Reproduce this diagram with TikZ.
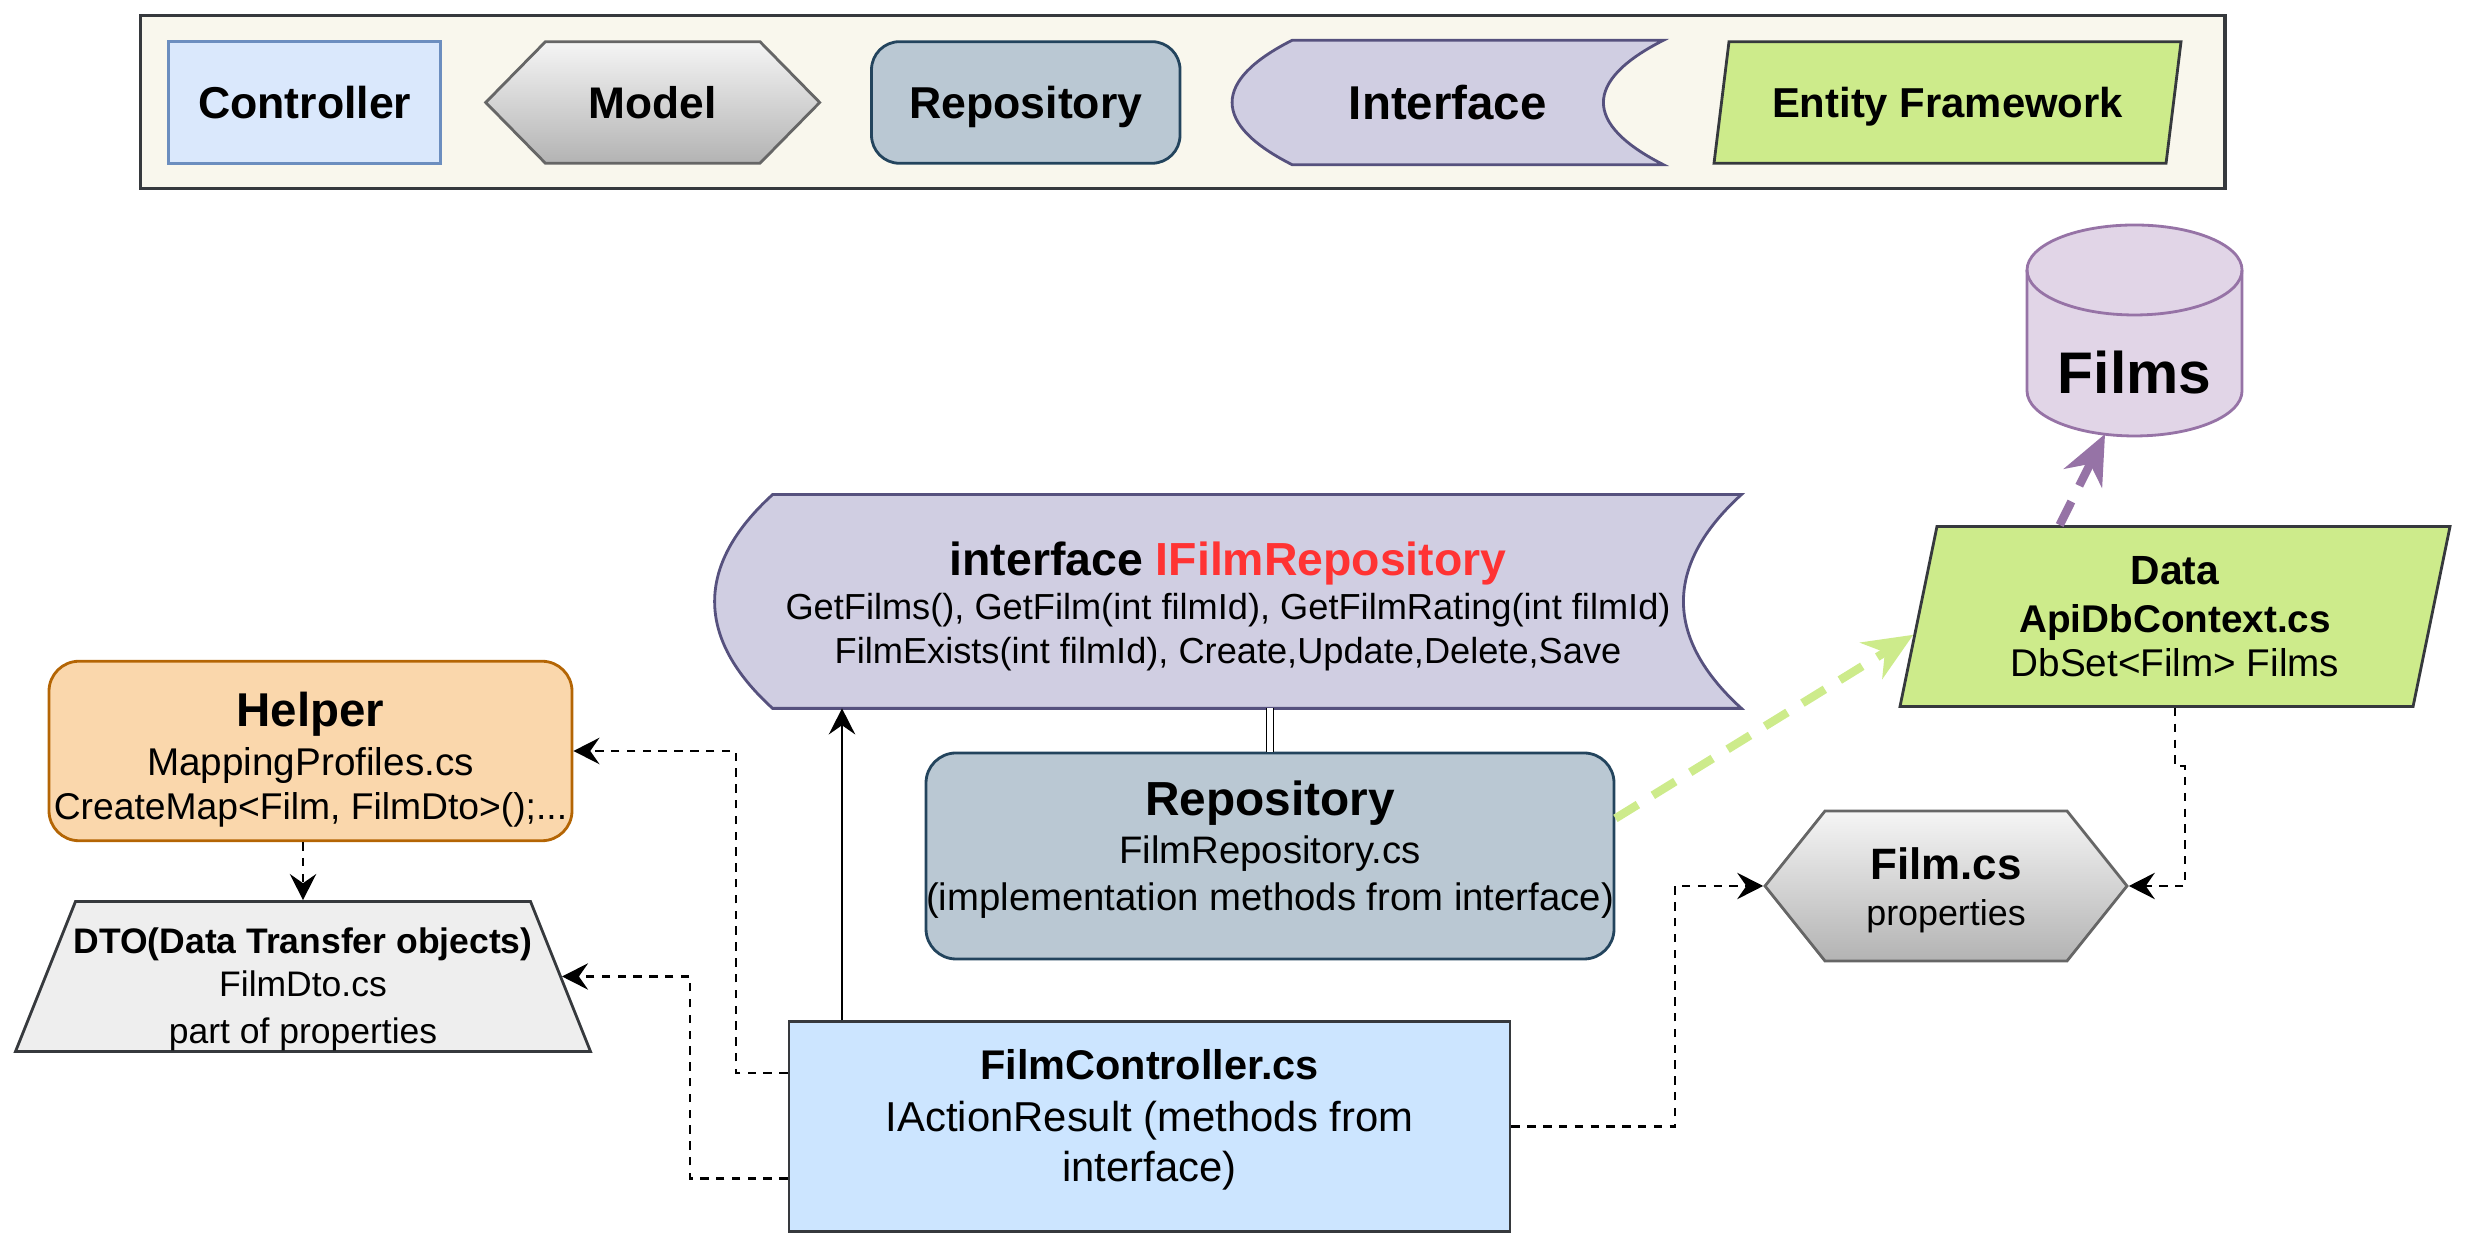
\documentclass[tikz,border=0pt]{standalone}
\usepackage{fontspec}
\setmainfont{Liberation Sans}
\usetikzlibrary{arrows.meta, calc, positioning, shapes.geometric, shapes.symbols, backgrounds}
\definecolor{ctrlFill}{HTML}{DAE8FC}
\definecolor{ctrlLine}{HTML}{6C8EBF}
\definecolor{ctrlMain}{HTML}{CCE5FF}
\definecolor{darkLine}{HTML}{36393D}
\definecolor{modelTop}{HTML}{F5F5F5}
\definecolor{modelBot}{HTML}{B3B3B3}
\definecolor{modelLine}{HTML}{666666}
\definecolor{repoFill}{HTML}{BAC8D3}
\definecolor{repoLine}{HTML}{23445D}
\definecolor{ifaceFill}{HTML}{D0CEE2}
\definecolor{ifaceLine}{HTML}{56517E}
\definecolor{efFill}{HTML}{CDEB8B}
\definecolor{helperFill}{HTML}{FAD7AC}
\definecolor{helperLine}{HTML}{B46504}
\definecolor{dtoFill}{HTML}{EEEEEE}
\definecolor{dbFill}{HTML}{E1D5E7}
\definecolor{dbLine}{HTML}{9673A6}
\definecolor{legendFill}{HTML}{F9F7ED}
\definecolor{ifaceRed}{HTML}{FF3333}

\begin{document}
\begin{tikzpicture}[
    font=\fontsize{11}{13}\selectfont,
    box/.style={align=center, inner sep=0pt, line width=0.8pt},
    txt/.style={align=center, inner sep=0pt},
    keytext/.style={text depth=0pt},
    ctrlkey/.style={box, keytext, draw=ctrlLine, fill=ctrlFill},
    ctrlbox/.style={box, draw=darkLine, fill=ctrlMain},
    model/.style={box, signal, signal to=east and west, draw=modelLine, top color=modelTop, bottom color=modelBot},
    repobox/.style={box, rounded corners=0.3cm, draw=repoLine, fill=repoFill},
    ifaceline/.style={line width=0.8pt, draw=ifaceLine, fill=ifaceFill},
    efbox/.style={box, trapezium, trapezium stretches body, draw=darkLine, fill=efFill},
    helperbox/.style={box, rounded corners=0.3cm, draw=helperLine, fill=helperFill},
    dtobox/.style={box, trapezium, trapezium stretches body, draw=darkLine, fill=dtoFill},
    dbline/.style={line width=0.8pt, draw=dbLine, fill=dbFill},
    dasharrow/.style={line width=0.75pt, dash pattern=on 2.4pt off 2.1pt, -{Stealth[length=7.4pt, width=7.5pt, inset=2.6pt]}},
    solidarrow/.style={line width=0.6pt, -{Stealth[length=7.4pt, width=7.5pt, inset=2.6pt]}},
    bigdash/.style={line width=2.4pt, dash pattern=on 7.5pt off 5pt, -{Stealth[length=14pt, width=12pt, inset=4.5pt]}},
]
    \useasboundingbox (0,0) rectangle (24.69,12.48);

    % Legend
    \node[ctrlkey, minimum width=2.72cm, minimum height=1.216cm, font=\fontsize{12.7}{15}\selectfont\bfseries] (keyCtrl) at (3.047,11.455) {Controller};
    \node[model, keytext, signal pointer angle=91, minimum width=3.34cm, minimum height=1.216cm, font=\fontsize{12.6}{15}\selectfont\bfseries] (keyModel) at (6.527,11.455) {Model};
    \node[repobox, keytext, rounded corners=0.28cm, minimum width=3.085cm, minimum height=1.216cm, font=\fontsize{12.7}{15}\selectfont\bfseries] (keyRepo) at (10.2575,11.455) {Repository};
    \node[box, keytext, minimum width=4.285cm, minimum height=1.216cm, font=\fontsize{13.5}{16}\selectfont\bfseries] (keyIface) at (14.4775,11.455) {Interface};
    \node[efbox, keytext, trapezium left angle=63.7, trapezium right angle=116.3, minimum width=4.67cm, minimum height=1.216cm, font=\fontsize{11.9}{14}\selectfont\bfseries] (keyEf) at (19.475,11.455) {Entity Framework};

    % Database
    \filldraw[dbline] (20.27,9.78) -- (20.27,8.57) arc[start angle=180, end angle=360, x radius=1.075cm, y radius=0.45cm] -- (22.42,9.78) arc[start angle=0, end angle=180, x radius=1.075cm, y radius=0.45cm] -- cycle;
    \draw[dbline, fill=none] (20.27,9.78) arc[start angle=180, end angle=360, x radius=1.075cm, y radius=0.45cm];
    \node[font=\fontsize{16.7}{20}\selectfont\bfseries] (films) at (21.345,8.75) {Films};
    \coordinate (filmsBase) at (21.05,8.14);

    % Main blocks
    \node[box, minimum width=10.24cm, minimum height=2.11cm] (iface) at (12.28,6.465) {};
    \node[txt, font=\fontsize{10.3}{12.5}\selectfont] (ifaceText) at ($(iface)+(0,-0.047)$)
        {{\fontsize{13.2}{15.8}\selectfont\bfseries interface \textcolor{ifaceRed}{IFilmRepository}}\\
         GetFilms(), GetFilm(int filmId), GetFilmRating(int filmId)\\
         FilmExists(int filmId), Create,Update,Delete,Save};
    \node[repobox, minimum width=6.88cm, minimum height=2.06cm] (repo) at (12.70,3.92) {};
    \node[txt, font=\fontsize{10.9}{13.5}\selectfont] (repoText) at ($(repo)+(0,0.063)$)
        {{\fontsize{13.6}{16}\selectfont\bfseries Repository}\\
         FilmRepository.cs\\
         (implementation methods from interface)};
    \node[efbox, trapezium left angle=73, trapezium right angle=107, minimum width=5.5cm, minimum height=1.8cm, font=\fontsize{11}{12.5}\selectfont] (data) at (21.75,6.315)
        {{\fontsize{11.6}{14}\selectfont\bfseries Data}\\[1.3pt]
         {\bfseries ApiDbContext.cs}\\
         DbSet<Film> Films};
    \node[helperbox, minimum width=5.23cm, minimum height=1.795cm] (helper) at (3.105,4.97) {};
    \node[txt, font=\fontsize{10.6}{12.6}\selectfont] (helperText) at ($(helper)+(0,-0.087)$)
        {{\fontsize{13.5}{16}\selectfont\bfseries Helper}\\[1.4pt]
         {\fontsize{11}{13}\selectfont MappingProfiles.cs}\\
         CreateMap<Film, FilmDto>();...};
    \node[dtobox, trapezium left angle=68.2, trapezium right angle=68.2, minimum width=5.75cm, minimum height=1.5cm] (dto) at (3.03,2.715) {\rule{0pt}{1.5cm}};
    \node[txt, font=\fontsize{10.1}{13.2}\selectfont] (dtoText) at ($(dto)+(0,-0.126)$)
        {{\bfseries DTO(Data Transfer objects)}\\[-0.9pt]
         FilmDto.cs\\
         part of properties};
    \node[ctrlbox, minimum width=7.21cm, minimum height=2.094cm] (ctrl) at (11.495,1.214) {};
    \node[txt, font=\fontsize{11.9}{14.3}\selectfont] (ctrlText) at ($(ctrl)+(0,0.071)$)
        {{\fontsize{11.8}{15}\selectfont\bfseries FilmController.cs}\\[0.5pt]
         IActionResult (methods from\\
         interface)};
    \node[model, signal pointer angle=102.7, minimum width=3.62cm, minimum height=1.5cm] (film) at (19.46,3.62) {};
    \node[txt, font=\fontsize{10.2}{13.1}\selectfont] (filmText) at ($(film)+(0,-0.047)$)
        {{\fontsize{12.5}{15}\selectfont\bfseries Film.cs}\\
         properties};

    \begin{scope}[on background layer]
        \node[draw=darkLine, fill=legendFill, line width=1pt, minimum width=20.845cm, minimum height=1.726cm, inner sep=0pt] (legend) at (11.8275,11.46) {};
        \path[ifaceline] ($(keyIface.north west)+(0.6,0)$) -- (keyIface.north east)
            .. controls ($(keyIface.north east)+(-0.8,-0.405)$) and ($(keyIface.south east)+(-0.8,0.405)$) .. (keyIface.south east)
            -- ($(keyIface.south west)+(0.6,0)$)
            .. controls ($(keyIface.south west)+(-0.2,0.405)$) and ($(keyIface.north west)+(-0.2,-0.405)$) .. cycle;
        \path[ifaceline] ($(iface.north west)+(0.58,0)$) -- (iface.north east)
            .. controls ($(iface.north east)+(-0.773,-0.703)$) and ($(iface.south east)+(-0.773,0.703)$) .. (iface.south east)
            -- ($(iface.south west)+(0.58,0)$)
            .. controls ($(iface.south west)+(-0.193,0.703)$) and ($(iface.north west)+(-0.193,-0.703)$) .. cycle;
    \end{scope}

    % Connectors
    \coordinate (upX) at (8.42,0);
    \coordinate (dblX) at (12.70,0);
    \coordinate (hlpX) at (7.36,0);
    \coordinate (dtoX) at (6.90,0);
    \coordinate (filmX) at (16.75,0);

    \draw[solidarrow] (ctrl.north -| upX) -- (iface.south -| upX);
    \draw[line width=0.5pt, double, double distance=1.5pt] (iface.south -| dblX) -- (repo.north -| dblX);
    \draw[bigdash, efFill] ($(repo.north east)!0.32!(repo.south east)$) -- ($(data.bottom left corner)!0.4!(data.top left corner)$);
    \draw[bigdash, dbLine] ($(data.top left corner)!0.24!(data.top right corner)$) -- (filmsBase);
    \draw[dasharrow] (helper.south -| dto.north) -- (dto.north);
    \draw[dasharrow] ($(ctrl.north west)!0.248!(ctrl.south west)$) coordinate (c1) -- (c1 -| hlpX) |- (helper);
    \draw[dasharrow] ($(ctrl.north west)!0.745!(ctrl.south west)$) coordinate (c2) -- (c2 -| dtoX) |- (dto);
    \draw[dasharrow] (ctrl.east) -- (ctrl.east -| filmX) |- (film);
    \draw[dasharrow] (data.center |- data.bottom left corner) -- ++(0,-0.58) -- ++(0.1,0) |- (film);
\end{tikzpicture}
\end{document}
